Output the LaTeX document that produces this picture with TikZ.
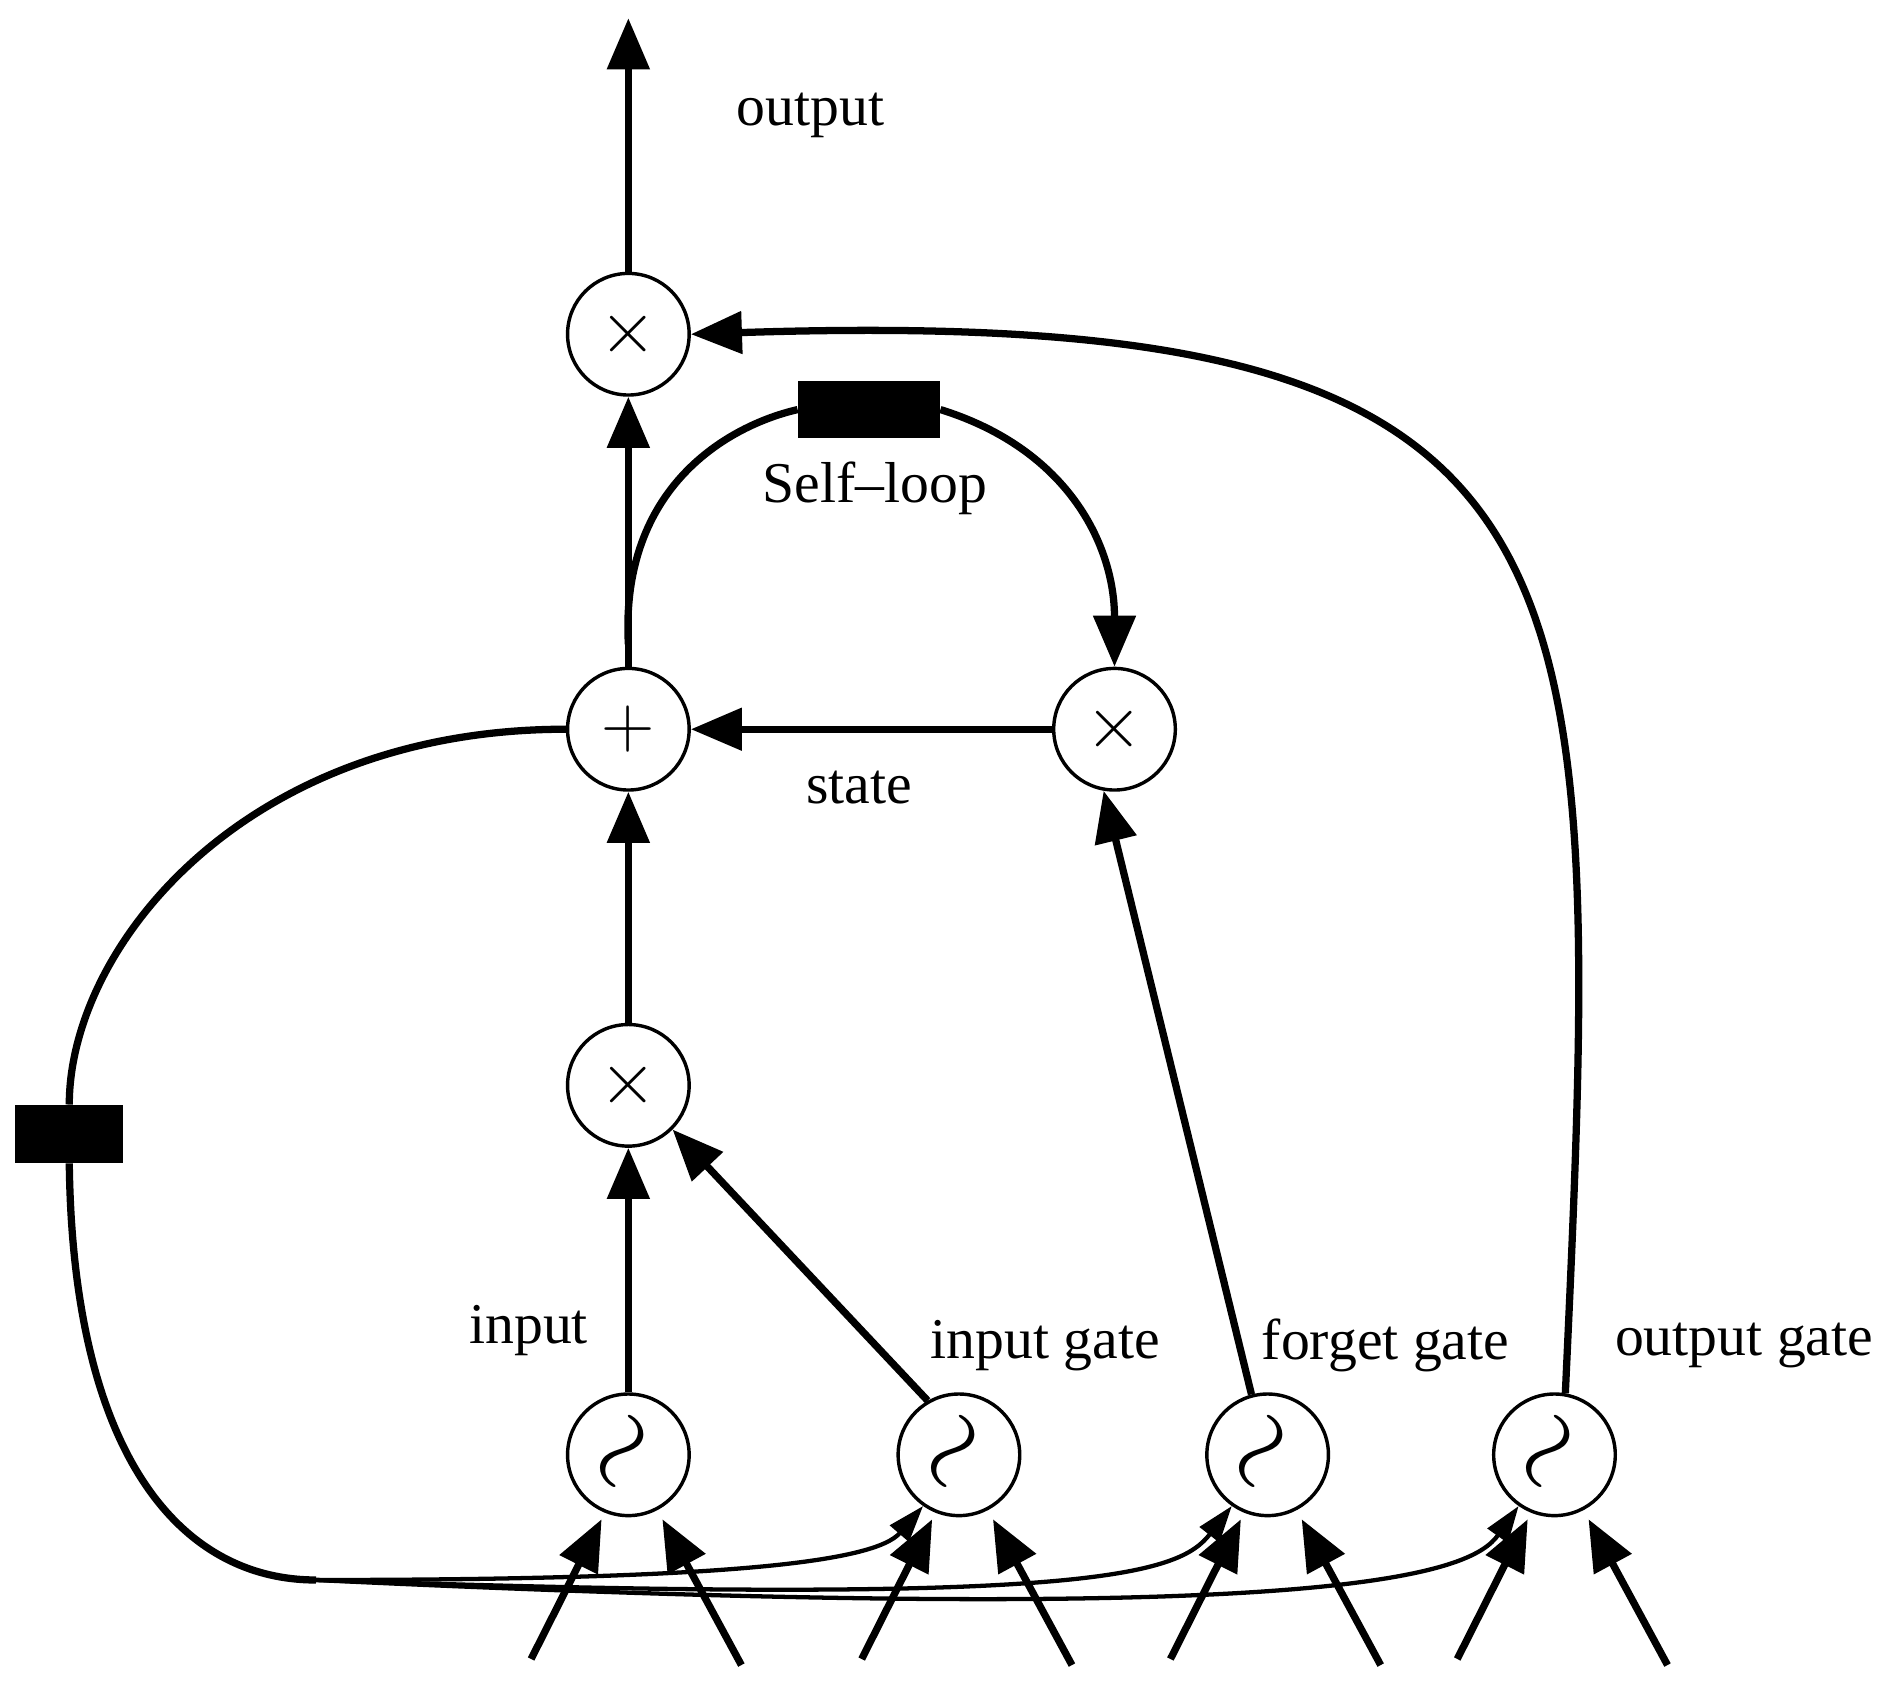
\documentclass[tikz,border=0pt]{standalone}
\usepackage{fontspec}
\setmainfont{Liberation Serif}
\usetikzlibrary{arrows.meta}
\begin{document}
\begin{tikzpicture}[x=0.01cm,y=-0.01cm,
  op/.style={circle,draw,line width=0.8pt,minimum size=1cm,inner sep=0pt,font=\fontsize{16}{18}\selectfont},
  lbl/.style={font=\fontsize{13.5}{16}\selectfont},
  w/.style={line width=1.7pt},
  a/.style={w,-{Triangle[length=0.42cm,width=0.34cm]}},
  ta/.style={line width=1pt,-{Triangle[length=0.3cm,width=0.2cm]}},
  box/.style={fill=black,minimum width=#1,minimum height=0.47cm,inner sep=0pt}]
\useasboundingbox (0,0) rectangle (1560,1386);
\node[op] (ox) at (517,275) {$\times$};
\node[op] (pl) at (517,600) {$+$};
\node[op] (fx) at (917,600) {$\times$};
\node[op] (ix) at (517,893) {$\times$};
\foreach \n/\x in {t1/517,t2/789,t3/1043,t4/1279}{
  \node[op] (\n) at (\x,1197) {\rotatebox{60}{\fontsize{26}{26}\selectfont$\sim$}};
  \coordinate (\n a) at ({\x-80},1365);
  \coordinate (\n b) at ({\x+93},1370);
  \draw[a] (\n a) -- ({\x-22},1250);
  \draw[a] (\n b) -- ({\x+28},1250);
}
\node[box=1.16cm] (sb) at (715,337) {};
\node[box=0.89cm] (lb) at (57,933) {};
\coordinate (top) at (517,15);
\coordinate (bl) at (260,1300);
\node[lbl] at (667,95) {output};
\node[lbl] at (720,402) {Self--loop};
\node[lbl] at (707,648) {state};
\node[lbl] at (435,1095) {input};
\node[lbl] at (860,1107) {input gate};
\node[lbl] at (1140,1107) {forget gate};
\node[lbl] at (1435,1107) {output gate};
\draw[a] (ox.north) -- (top);
\draw[a] (pl.north) -- (ox.south);
\draw[w] (517,530) .. controls (510,400) and (600,350) .. (sb.west);
\draw[a] (sb.east) .. controls (880,370) and (917,450) .. (fx.north);
\draw[a] (fx.west) -- (pl.east);
\draw[a] (ix.north) -- (pl.south);
\draw[a] (t1.north) -- (ix.south);
\draw[a] (t2.120) -- (ix.-45);
\draw[a] (t3.105) -- (fx.-100);
\draw[a] (t4.80) .. controls (1320,450) and (1330,250) .. (ox.east);
\draw[w] (pl.west) .. controls (200,600) and (57,780) .. (lb.north);
\draw[w] (lb.south) .. controls (60,1200) and (150,1300) .. (bl);
\draw[ta] (bl) .. controls (600,1300) and (720,1285) .. (t2.-125);
\draw[ta] (bl) .. controls (900,1322) and (970,1295) .. (t3.-125);
\draw[ta] (bl) .. controls (1100,1340) and (1210,1295) .. (t4.-125);
\end{tikzpicture}
\end{document}
